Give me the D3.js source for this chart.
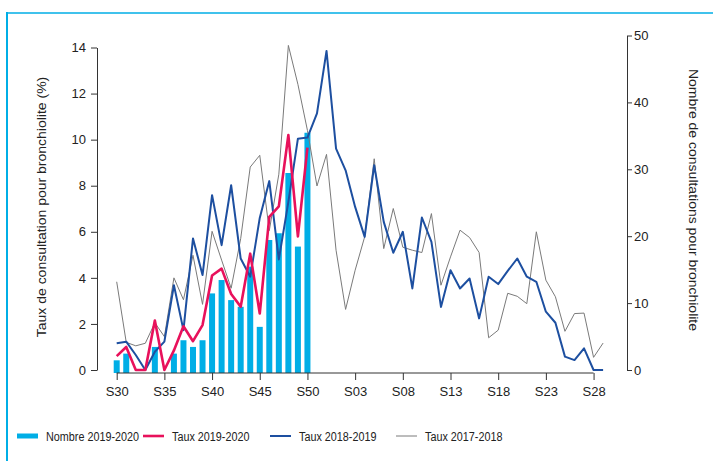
<!DOCTYPE html>
<html>
<head>
<meta charset="utf-8">
<script src="https://cdn.jsdelivr.net/npm/d3@7"></script>
<style>
  body { margin: 0; background: #fff; }
  text { font-family: "Liberation Sans", Arial, sans-serif; fill: #222; }
</style>
</head>
<body>
<svg id="chart" width="718" height="461"></svg>
<script>
const weeks = ["S30","S31","S32","S33","S34","S35","S36","S37","S38","S39","S40","S41","S42","S43","S44","S45","S46","S47","S48","S49","S50","S51","S52",
  "S01","S02","S03","S04","S05","S06","S07","S08","S09","S10","S11","S12","S13","S14","S15","S16","S17","S18","S19","S20","S21","S22","S23","S24","S25","S26","S27","S28","S29"];

// nombre de consultations 2019-2020 (S30 -> S50)
const nombre2019 = [1,2,0,0,3,0,2,4,3,4,11,13,10,9,15,6,19,20,29,18,35];

// taux (%)
const taux2019 = [0.6,1.0,0,0,2.15,0,0.85,1.9,1.25,1.95,4.1,4.4,3.3,2.75,5.05,2.45,6.65,7.1,10.2,5.8,9.65];

const taux2018 = [1.16,1.23,0.65,0,0.79,1.23,3.68,1.73,5.71,4.12,7.59,5.42,8.02,4.84,4.05,6.6,8.2,4.8,7.3,10.04,10.09,11.14,13.85,
  9.61,8.67,7.08,5.78,8.89,6.43,5.09,6.0,3.54,6.62,5.56,2.74,4.33,3.54,3.97,2.24,4.05,3.73,4.3,4.84,4.05,3.83,2.53,2.05,0.58,0.43,0.94,0,0];

const taux2017 = [3.83,1.2,1.05,1.16,2.05,1.45,4.0,3.05,4.98,2.85,6.02,4.77,3.55,5.7,8.81,9.32,6.05,8.5,14.09,12.4,10.4,7.99,9.36,
  5.2,2.63,4.33,5.78,9.17,5.27,7.01,5.33,5.2,5.1,6.79,3.68,4.91,6.07,5.75,5.1,1.4,1.73,3.33,3.2,2.88,6.0,3.9,3.18,1.68,2.45,2.47,0.55,1.17];

const leftTicks = [0,2,4,6,8,10,12,14];
const rightTicks = [0,10,20,30,40,50];
const xTicks = [0,5,10,15,20,25,30,35,40,45,50];

const legendItems = ["Nombre 2019-2020","Taux 2019-2020","Taux 2018-2019","Taux 2017-2018"];

const svg = d3.select("#chart");
const cyan = "#00aee6", red = "#e8115b", blue = "#1d4fa0", grey = "#7a7a7a";

// frame
svg.append("line").attr("x1", 7).attr("x2", 713).attr("y1", 13).attr("y2", 13)
  .attr("stroke", cyan).attr("stroke-width", 1.5);
svg.append("line").attr("x1", 7).attr("x2", 7).attr("y1", 12).attr("y2", 461)
  .attr("stroke", cyan).attr("stroke-width", 2);

const x = d3.scaleLinear().domain([0, 51]).range([116.7, 603.1]);
const yL = d3.scaleLinear().domain([0, 14]).range([370, 47.5]);
const yR = d3.scaleLinear().domain([0, 50]).range([370, 35.5]);

// bars (thick R-style segments)
svg.append("g").selectAll("line").data(nombre2019.map((v, i) => ({ v, i })).filter(d => d.v > 0))
  .join("line")
  .attr("x1", d => x(d.i)).attr("x2", d => x(d.i))
  .attr("y1", yR(0)).attr("y2", d => yR(d.v))
  .attr("stroke", cyan).attr("stroke-width", 6).attr("stroke-linecap", "square");

const line = d3.line().x((d, i) => x(i)).y(d => yL(d));

svg.append("path").datum(taux2017).attr("d", line)
  .attr("fill", "none").attr("stroke", grey).attr("stroke-width", 1);
svg.append("path").datum(taux2018).attr("d", line)
  .attr("fill", "none").attr("stroke", blue).attr("stroke-width", 2).attr("stroke-linejoin", "round");
svg.append("path").datum(taux2019).attr("d", line)
  .attr("fill", "none").attr("stroke", red).attr("stroke-width", 2.6).attr("stroke-linejoin", "round");

// axes
function styleAxis(g) {
  g.selectAll("path, line").attr("stroke", "#333");
  g.selectAll("text").attr("font-size", "13px").attr("fill", "#222");
}

svg.append("g").attr("transform", "translate(97,0)")
  .call(d3.axisLeft(yL).tickValues(leftTicks).tickSize(6).tickSizeOuter(0).tickPadding(5))
  .call(styleAxis);

svg.append("g").attr("transform", "translate(627,0)")
  .call(d3.axisRight(yR).tickValues(rightTicks).tickSize(5).tickSizeOuter(0).tickPadding(2))
  .call(styleAxis);

const xg = svg.append("g").attr("transform", "translate(0,373)")
  .call(d3.axisBottom(x).tickValues(xTicks).tickFormat(i => weeks[i]).tickSize(7).tickPadding(7))
  .call(styleAxis);
xg.select(".domain").remove();
xg.append("line").attr("x1", x(xTicks[0])).attr("x2", x(xTicks[xTicks.length - 1]))
  .attr("stroke", "#333");

// axis titles
svg.append("text")
  .attr("transform", "translate(46,207) scale(0.85,1) rotate(-90)")
  .attr("text-anchor", "middle").attr("font-size", "14px")
  .text("Taux de consultation pour bronchiolite (%)");
svg.append("text")
  .attr("transform", "translate(689,200) scale(0.85,1) rotate(90)")
  .attr("text-anchor", "middle").attr("font-size", "14px")
  .text("Nombre de consultations pour bronchiolite");

// legend
const legX = [17, 143, 270, 396];
const legStyles = [
  { color: cyan, w: 5 },
  { color: red, w: 2.6 },
  { color: blue, w: 2 },
  { color: grey, w: 1 }
];
const leg = svg.append("g").selectAll("g").data(legendItems).join("g")
  .attr("transform", (d, i) => `translate(${legX[i]},436)`);
leg.append("line").attr("x1", 0).attr("x2", 21).attr("y1", 0).attr("y2", 0)
  .attr("stroke", (d, i) => legStyles[i].color).attr("stroke-width", (d, i) => legStyles[i].w);
leg.append("text").attr("transform", "translate(29,5) scale(0.8,1)")
  .attr("font-size", "13.5px").text(d => d);
</script>
</body>
</html>
